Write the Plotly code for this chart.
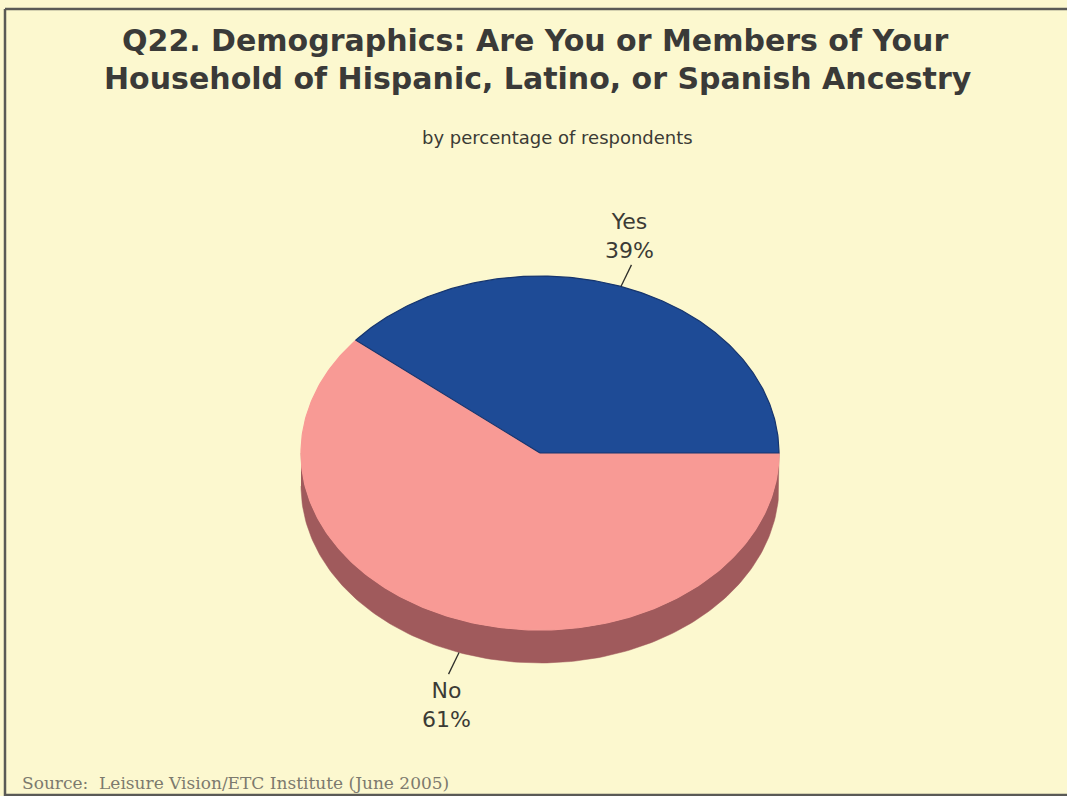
import numpy as np
import plotly.graph_objects as go

# Survey answers (percent of respondents)
categories = ["Yes", "No"]
percents = [39, 61]

# Colours per slice: top face and side wall
top_colors = ["#1e4b96", "#f89a95"]
side_colors = ["#2a3f70", "#a05a5c"]
edge_colors = ["#16356e", "#f89a95"]

W, H = 1067, 796
BG = "#fcf8cf"

# Tilted pie geometry (pixel units, y grows downward)
cx, cy = 540, 453
rx, ry = 239, 177
depth = 33


def ellipse_pt(theta_deg, dy=0.0):
    t = np.radians(theta_deg)
    return cx + rx * np.cos(t), cy - ry * np.sin(t) + dy


fig = go.Figure()

total = float(sum(percents))
bounds = []
start = 0.0
for v in percents:
    end = start + 360.0 * v / total
    bounds.append((start, end))
    start = end

# Side walls: only the front half (180..360 deg) is visible
for (a, b), col in zip(bounds, side_colors):
    lo, hi = max(a, 180.0), min(b, 360.0)
    if hi <= lo:
        continue
    th = np.linspace(lo, hi, 160)
    xs_top, ys_top = ellipse_pt(th)
    xs_bot, ys_bot = ellipse_pt(th[::-1], depth)
    fig.add_trace(go.Scatter(
        x=np.concatenate([xs_top, xs_bot]), y=np.concatenate([ys_top, ys_bot]),
        fill="toself", fillcolor=col, mode="lines",
        line=dict(color=col, width=0.5), hoverinfo="skip", showlegend=False))

# Top faces: draw the larger slice first so the blue outline sits on top
order = sorted(range(len(percents)), key=lambda i: -percents[i])
for i in order:
    a, b = bounds[i]
    th = np.linspace(a, b, 240)
    xs, ys = ellipse_pt(th)
    fig.add_trace(go.Scatter(
        x=np.concatenate([[cx], xs, [cx]]), y=np.concatenate([[cy], ys, [cy]]),
        fill="toself", fillcolor=top_colors[i], mode="lines",
        line=dict(color=edge_colors[i], width=1.2),
        name=categories[i], hoverinfo="name", showlegend=False))

# Leader lines and labels
label_font = dict(family="DejaVu Sans, Verdana, sans-serif", size=22, color="#3b3b35")
for (a, b), name, v in zip(bounds, categories, percents):
    mid = (a + b) / 2.0
    front = np.sin(np.radians(mid)) < 0
    x0, y0 = ellipse_pt(mid, depth if front else 0)
    dx, dy = rx * np.cos(np.radians(mid)), -ry * np.sin(np.radians(mid))
    n = np.hypot(dx, dy)
    x1, y1 = x0 + 24 * dx / n, y0 + 24 * dy / n
    fig.add_trace(go.Scatter(x=[x0, x1], y=[y0, y1], mode="lines",
                             line=dict(color="#2e2e2a", width=1.3),
                             hoverinfo="skip", showlegend=False))
    fig.add_annotation(x=x1 - 2, y=y1 + (2 if front else 0), xref="x", yref="y",
                       text=f"{name}<br>{v}%", showarrow=False,
                       xanchor="center", yanchor="top" if front else "bottom",
                       font=label_font, align="center")

# Titles
title_font = dict(family="DejaVu Sans, Verdana, sans-serif", size=30, color="#3a3a38")
fig.add_annotation(x=535, y=40, xref="x", yref="y", showarrow=False,
                   text="<b>Q22. Demographics: Are You or Members of Your</b>",
                   font=title_font, xanchor="center", yanchor="middle")
fig.add_annotation(x=538, y=78, xref="x", yref="y", showarrow=False,
                   text="<b>Household of Hispanic, Latino, or Spanish Ancestry</b>",
                   font=title_font, xanchor="center", yanchor="middle")
fig.add_annotation(x=557, y=137, xref="x", yref="y", showarrow=False,
                   text="by percentage of respondents",
                   font=dict(family="DejaVu Sans, Verdana, sans-serif", size=18,
                             color="#3b3b35"),
                   xanchor="center", yanchor="middle")
fig.add_annotation(x=20, y=795, xref="x", yref="y", showarrow=False,
                   text="Source:  Leisure Vision/ETC Institute (June 2005)",
                   font=dict(family="DejaVu Serif, Liberation Serif, serif", size=17,
                             color="#7c7a6e"),
                   xanchor="left", yanchor="bottom")

# Frame lines (top, left, bottom)
frame = dict(color="#5a5a56", width=2.5)
fig.add_shape(type="line", x0=5, y0=9, x1=W, y1=9, xref="x", yref="y", line=frame)
fig.add_shape(type="line", x0=5, y0=9, x1=5, y1=H, xref="x", yref="y", line=frame)
fig.add_shape(type="line", x0=5, y0=H - 1, x1=W, y1=H - 1, xref="x", yref="y", line=frame)

fig.update_layout(
    width=W, height=H,
    margin=dict(l=0, r=0, t=0, b=0),
    paper_bgcolor=BG, plot_bgcolor=BG,
    xaxis=dict(range=[0, W], visible=False, fixedrange=True),
    yaxis=dict(range=[H, 0], visible=False, fixedrange=True),
    showlegend=False,
)

fig.write_html("out.html")
